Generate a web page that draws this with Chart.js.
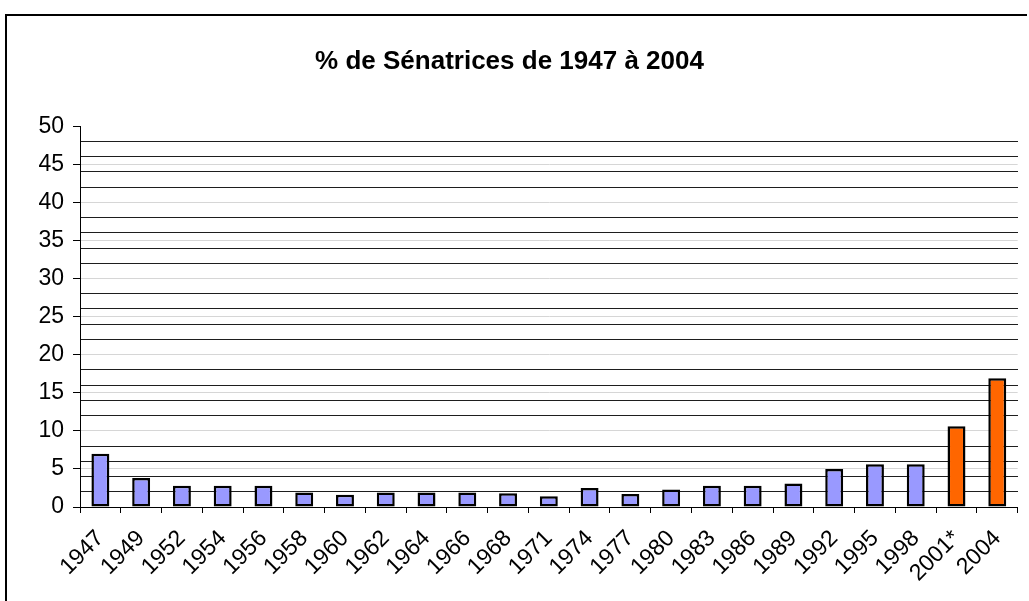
<!DOCTYPE html>
<html>
<head>
<meta charset="utf-8">
<script src="https://cdn.jsdelivr.net/npm/chart.js@4"></script>
<style>
  body { margin: 0; background: #fff; }
  #wrap { position: relative; width: 1029px; height: 601px; }
  #frame { position: absolute; left: 5px; top: 14px; width: 1020px; height: 600px;
           border-left: 2px solid #000; border-top: 2px solid #000; pointer-events: none; }
</style>
</head>
<body>
<div id="wrap">
  <canvas id="chart" width="1029" height="601"></canvas>
  <div id="frame"></div>
</div>
<script>
const years = ["1947", "1949", "1952", "1954", "1956", "1958", "1960", "1962", "1964", "1966",
               "1968", "1971", "1974", "1977", "1980", "1983", "1986", "1989", "1992", "1995",
               "1998", "2001*", "2004"];
const percentWomen = [7.0, 3.8, 2.8, 2.8, 2.8, 1.9, 1.6, 1.9, 1.9, 1.9,
                      1.8, 1.4, 2.5, 1.7, 2.3, 2.8, 2.8, 3.1, 5.0, 5.6,
                      5.6, 10.6, 16.9];
// the last two elections drawn in orange
const highlighted = ["2001*", "2004"];
const yTicks = [0, 5, 10, 15, 20, 25, 30, 35, 40, 45, 50];

const fontFamily = "'Liberation Sans', Arial, sans-serif";

new Chart(document.getElementById("chart"), {
  type: "bar",
  data: {
    labels: years,
    datasets: [{
      label: "% de Sénatrices",
      data: percentWomen,
      backgroundColor: years.map(y => highlighted.includes(y) ? "#ff6600" : "#9999ff"),
      borderColor: "#000",
      borderWidth: 2.5,
      borderSkipped: false,
      categoryPercentage: 1,
      barPercentage: 0.44
    }]
  },
  options: {
    responsive: false,
    animation: false,
    layout: { padding: { left: 0, right: 10, top: 0, bottom: 0 } },
    plugins: {
      legend: { display: false },
      tooltip: { enabled: false },
      title: {
        display: true,
        text: "% de Sénatrices de 1947 à 2004",
        color: "#000",
        font: { family: fontFamily, size: 26, weight: "bold", lineHeight: 1.2 },
        padding: { top: 46, bottom: 49 }
      }
    },
    scales: {
      x: {
        offset: true,
        grid: { drawOnChartArea: false, drawTicks: true, tickLength: 6, color: "#000" },
        border: { display: true, color: "#000", width: 1 },
        ticks: {
          color: "#000",
          font: { family: fontFamily, size: 23 },
          autoSkip: false,
          maxRotation: 45,
          minRotation: 45,
          padding: 12
        },
        afterFit: (scale) => { scale.height = 94; }
      },
      y: {
        min: 0,
        max: 50,
        afterBuildTicks: (scale) => { scale.ticks = yTicks.map(v => ({ value: v })); },
        grid: {
          lineWidth: 1,
          tickColor: "#000",
          tickLength: 7,
          color: (ctx) => (ctx.tick && ctx.tick.value === 50) ? "rgba(0,0,0,0)" : "#d6d6d6"
        },
        border: { display: true, color: "#000", width: 1 },
        ticks: { color: "#000", font: { family: fontFamily, size: 23 }, padding: 9 },
        afterFit: (scale) => { scale.width = 80; }
      },
      yMinor: {
        position: "right",
        min: 0,
        max: 50,
        ticks: { display: false, stepSize: 2 },
        grid: {
          drawTicks: false,
          lineWidth: 1,
          color: (ctx) => (ctx.tick && ctx.tick.value % 10 !== 0) ? "#1e1e1e" : "rgba(0,0,0,0)"
        },
        border: { display: false },
        afterFit: (scale) => { scale.width = 0; }
      }
    }
  }
});
</script>
</body>
</html>
